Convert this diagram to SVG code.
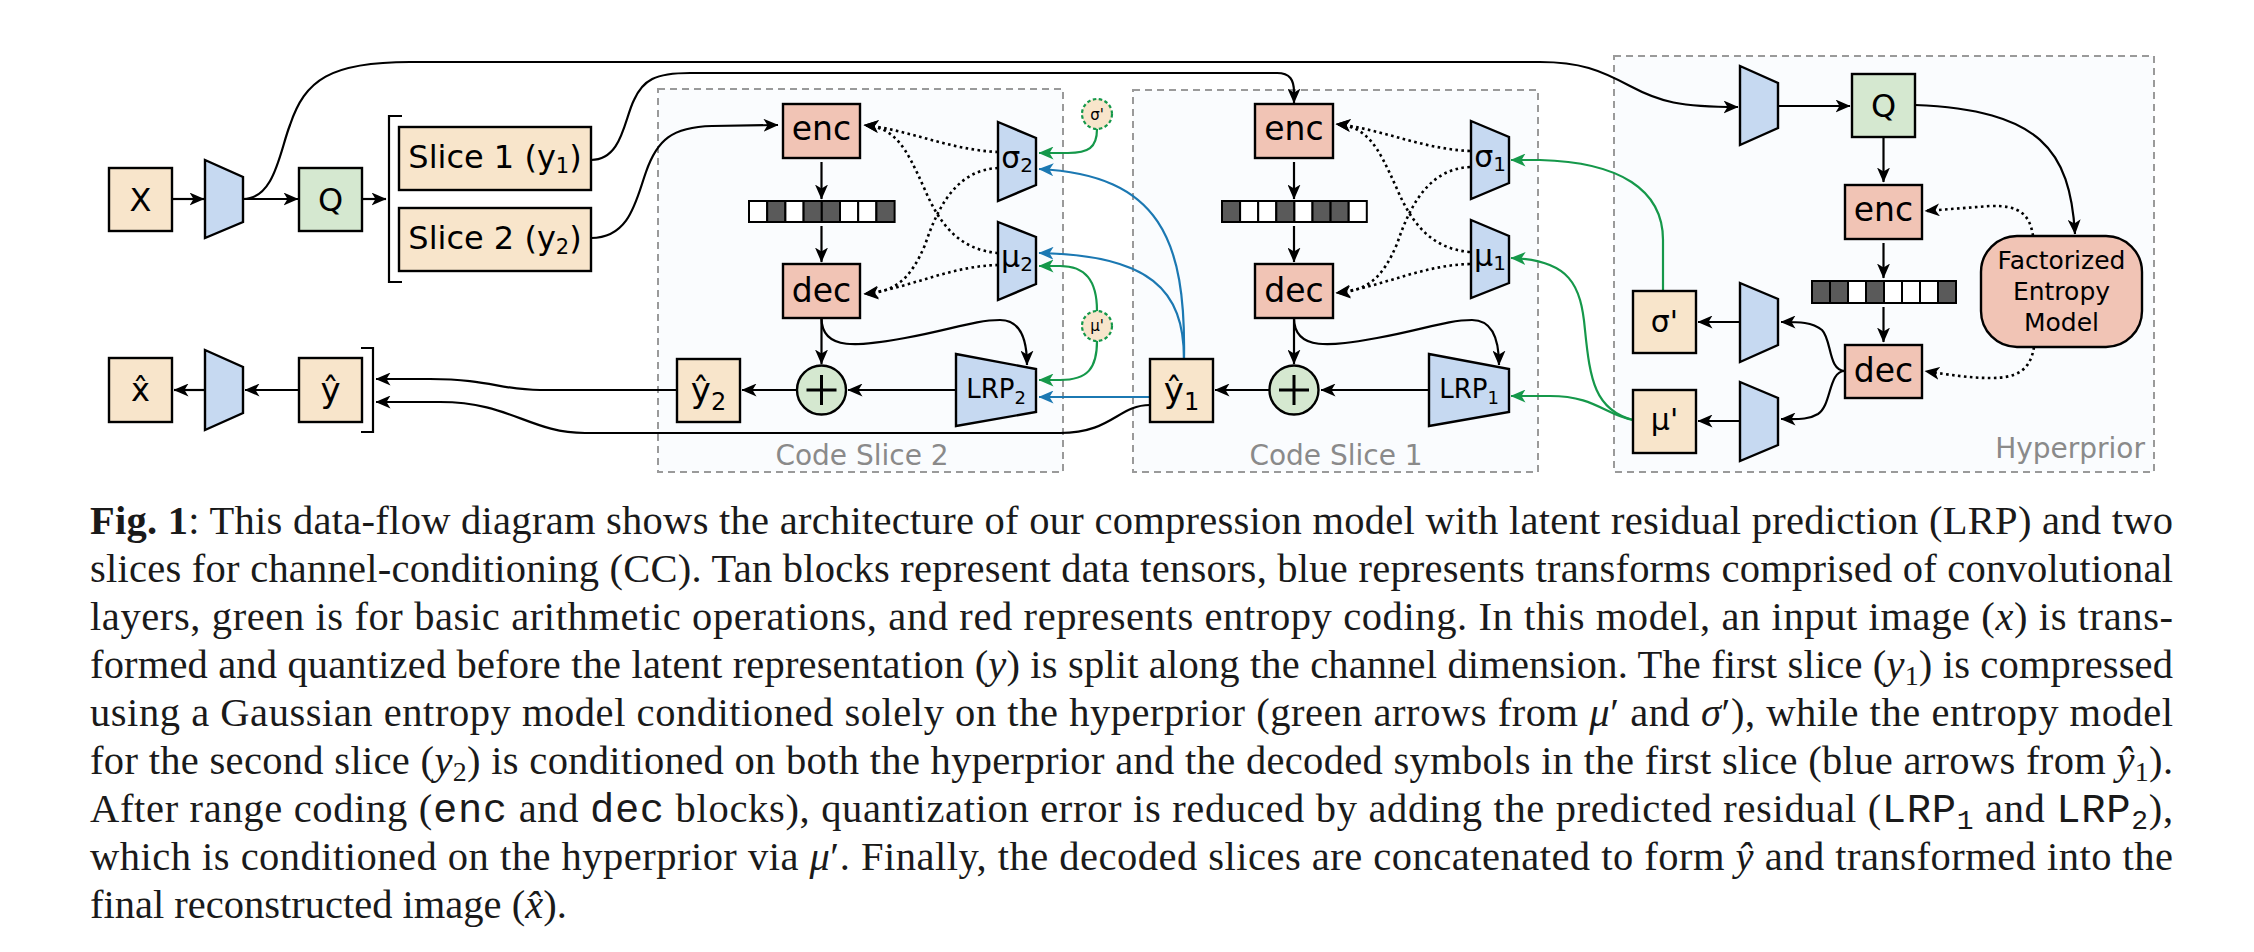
<svg xmlns="http://www.w3.org/2000/svg" width="2254" height="952" viewBox="0 0 2254 952">
<style>
.bg{fill:#ffffff}
.region{fill:#fafcfe;stroke:#9a9a9a;stroke-width:2;stroke-dasharray:7 5}
.rlabel{font-family:"DejaVu Sans",sans-serif;font-size:28px;fill:#8a8a8a}
.tan{fill:#f8e5cb;stroke:#000;stroke-width:2.4}
.grn{fill:#d5e8d0;stroke:#000;stroke-width:2.4}
.red{fill:#f1c4b5;stroke:#000;stroke-width:2.4}
.blu{fill:#c6d9f1;stroke:#000;stroke-width:2.4}
.lbl{font-family:"DejaVu Sans",sans-serif;fill:#000;text-anchor:middle}
.c{fill:none;stroke:#000;stroke-width:2.2}
.dot{fill:none;stroke:#000;stroke-width:2.6;stroke-dasharray:2.6 3.4}
.g{fill:none;stroke:#15984a;stroke-width:2.2}
.b{fill:none;stroke:#1b78b2;stroke-width:2.2}
.cell{stroke:#000;stroke-width:2}
.dk{fill:#5a5a5a}
.wt{fill:#ffffff}
.small{fill:#f8e5cb;stroke:#15984a;stroke-width:2.2;stroke-dasharray:3.5 2.5}
.cap{font-family:"Liberation Serif","Times New Roman",serif;font-size:40.5px;fill:#1a1a1a}
.mono{font-family:"Liberation Mono","Courier New",monospace}
</style>
<defs>
<marker id="ah" viewBox="0 0 15 13" refX="14.5" refY="6.5" markerWidth="15" markerHeight="13" markerUnits="userSpaceOnUse" orient="auto"><path d="M0,0 L15,6.5 L0,13 L4,6.5 Z" fill="#000"/></marker>
<marker id="ahg" viewBox="0 0 15 13" refX="14.5" refY="6.5" markerWidth="15" markerHeight="13" markerUnits="userSpaceOnUse" orient="auto"><path d="M0,0 L15,6.5 L0,13 L4,6.5 Z" fill="#15984a"/></marker>
<marker id="ahb" viewBox="0 0 15 13" refX="14.5" refY="6.5" markerWidth="15" markerHeight="13" markerUnits="userSpaceOnUse" orient="auto"><path d="M0,0 L15,6.5 L0,13 L4,6.5 Z" fill="#1b78b2"/></marker>
</defs>
<rect class="bg" x="0" y="0" width="2254" height="952"/>

<g id="regions">
<g id="code-slice-2"><rect class="region" x="658" y="89" width="405" height="383"/><text class="rlabel" x="862" y="465" text-anchor="middle">Code Slice 2</text></g>
<g id="code-slice-1"><rect class="region" x="1133" y="90" width="405" height="382"/><text class="rlabel" x="1336" y="465" text-anchor="middle">Code Slice 1</text></g>
<g id="hyperprior"><rect class="region" x="1614" y="56" width="540" height="416"/><text class="rlabel" x="2145" y="458" text-anchor="end">Hyperprior</text></g>
</g>

<g id="connectors">
<path class="c" d="M172,199 L204,199" marker-end="url(#ah)"/>
<path class="c" d="M243,199 L298,199" marker-end="url(#ah)"/>
<path class="c" d="M362,199 L386,199" marker-end="url(#ah)"/>
<path class="c" d="M243,199 C275,199 280,150 290,125 C305,80 330,62 410,62 L1540,62 C1580,62 1600,70 1630,86 C1660,102 1680,107 1738,107" marker-end="url(#ah)"/>
<path class="c" d="M591,160 C622,160 624,120 634,100 C643,80 655,73 690,73 L1277,73 C1290,73 1294,80 1294,92 L1294,103" marker-end="url(#ah)"/>
<path class="c" d="M591,238 C630,238 636,200 646,172 C657,140 672,127 712,126 L778,125" marker-end="url(#ah)"/>
<path class="c" d="M821.5,162 L821.5,199" marker-end="url(#ah)"/>
<path class="c" d="M821.5,226 L821.5,262" marker-end="url(#ah)"/>
<path class="c" d="M821.5,318 L821.5,364" marker-end="url(#ah)"/>
<path class="c" d="M821.5,318 C821.5,352 860,346 905,338 C950,330 975,320 1000,320 C1018,320 1027,335 1027,365" marker-end="url(#ah)"/>
<path class="c" d="M956,390 L848,390" marker-end="url(#ah)"/>
<path class="c" d="M797,390 L742,390" marker-end="url(#ah)"/>
<path class="dot" d="M998,152 C950,150 910,130 864,125" marker-end="url(#ah)"/>
<path class="dot" d="M998,253 C960,250 940,225 925,190 C905,145 895,128 864,125" marker-end="url(#ah)"/>
<path class="dot" d="M998,168 C960,170 940,200 925,245 C910,280 895,292 864,294" marker-end="url(#ah)"/>
<path class="dot" d="M998,265 C950,266 910,288 864,294" marker-end="url(#ah)"/>
<path class="g" d="M1097,129 C1097,148 1088,153 1068,153 L1039,153" marker-end="url(#ahg)"/>
<path class="g" d="M1097,311 C1097,280 1085,266 1060,266 L1039,266" marker-end="url(#ahg)"/>
<path class="g" d="M1097,341 C1097,368 1088,380 1060,380 L1039,380" marker-end="url(#ahg)"/>
<path class="b" d="M1184,359 C1186,240 1160,175 1039,169" marker-end="url(#ahb)"/>
<path class="b" d="M1184,359 C1184,290 1150,255 1039,253" marker-end="url(#ahb)"/>
<path class="b" d="M1150,397 L1039,397" marker-end="url(#ahb)"/>
<path class="c" d="M1294,162 L1294,199" marker-end="url(#ah)"/>
<path class="c" d="M1294,226 L1294,262" marker-end="url(#ah)"/>
<path class="c" d="M1294,318 L1294,364" marker-end="url(#ah)"/>
<path class="c" d="M1294,318 C1294,352 1332,346 1377,338 C1422,330 1447,320 1472,320 C1490,320 1499,335 1499,365" marker-end="url(#ah)"/>
<path class="c" d="M1429,390 L1321,390" marker-end="url(#ah)"/>
<path class="c" d="M1269,390 L1215,390" marker-end="url(#ah)"/>
<path class="dot" d="M1470,151 C1422,149 1382,129 1336,124" marker-end="url(#ah)"/>
<path class="dot" d="M1470,252 C1432,249 1412,224 1397,189 C1377,144 1367,127 1336,124" marker-end="url(#ah)"/>
<path class="dot" d="M1470,167 C1432,169 1412,199 1397,244 C1382,279 1367,291 1336,293" marker-end="url(#ah)"/>
<path class="dot" d="M1470,264 C1422,265 1382,287 1336,293" marker-end="url(#ah)"/>
<path class="g" d="M1663,291 L1663,240 C1663,190 1620,162 1540,160 L1511,160" marker-end="url(#ahg)"/>
<path class="g" d="M1633,420 C1595,410 1590,380 1585,330 C1581,285 1570,260 1511,258" marker-end="url(#ahg)"/>
<path class="g" d="M1633,420 C1605,415 1595,396 1550,396 L1511,396" marker-end="url(#ahg)"/>
<path class="c" d="M677,390 L540,390 C500,390 490,379 430,379 L376,379" marker-end="url(#ah)"/>
<path class="c" d="M1150,405 C1118,405 1112,433 1060,433 L585,433 C530,433 510,402 440,402 L376,402" marker-end="url(#ah)"/>
<path class="c" d="M299,390 L245,390" marker-end="url(#ah)"/>
<path class="c" d="M205,390 L174,390" marker-end="url(#ah)"/>
<path class="c" d="M1778,106 L1850,106" marker-end="url(#ah)"/>
<path class="c" d="M1883.5,137 L1883.5,182" marker-end="url(#ah)"/>
<path class="c" d="M1883.5,243 L1883.5,278" marker-end="url(#ah)"/>
<path class="c" d="M1883.5,307 L1883.5,342" marker-end="url(#ah)"/>
<path class="c" d="M1915,105 C2040,110 2070,150 2075,234" marker-end="url(#ah)"/>
<path class="dot" d="M2033,236 C2030,215 2020,205 1990,206 L1925,211" marker-end="url(#ah)"/>
<path class="dot" d="M2034,347 C2030,372 2015,378 1990,378 C1970,378 1950,375 1925,371" marker-end="url(#ah)"/>
<path class="c" d="M1845,371 C1828,371 1832,340 1822,330 C1812,322 1800,322 1781,322" marker-end="url(#ah)"/>
<path class="c" d="M1845,371 C1828,371 1832,405 1818,414 C1808,420 1798,419 1781,419" marker-end="url(#ah)"/>
<path class="c" d="M1740,322 L1698,322" marker-end="url(#ah)"/>
<path class="c" d="M1740,421 L1698,421" marker-end="url(#ah)"/>
</g>

<g id="brackets">
<path class="c" d="M402,116 L389,116 L389,282 L402,282" stroke-width="2.6"/>
<path class="c" d="M361,348 L373,348 L373,432 L361,432" stroke-width="2.6"/>
</g>

<g id="node-x"><rect class="tan" x="109" y="168" width="63" height="63"/><text class="lbl" x="140.5" y="211" font-size="32">X</text></g>
<g id="node-enc-transform"><polygon class="blu" points="205,160 243,177 243,222 205,238"/></g>
<g id="node-q"><rect class="grn" x="299" y="168" width="63" height="63"/><text class="lbl" x="330.5" y="211" font-size="32">Q</text></g>
<g id="node-slice1"><rect class="tan" x="399" y="127" width="192" height="63"/><text class="lbl" x="495" y="168" font-size="32">Slice 1 (y<tspan font-size="21" dy="5">1</tspan><tspan dy="-5">)</tspan></text></g>
<g id="node-slice2"><rect class="tan" x="399" y="208" width="192" height="63"/><text class="lbl" x="495" y="249" font-size="32">Slice 2 (y<tspan font-size="21" dy="5">2</tspan><tspan dy="-5">)</tspan></text></g>

<g id="node-xhat"><rect class="tan" x="109" y="358" width="63" height="64"/><text class="lbl" x="140.5" y="401" font-size="32">x̂</text></g>
<g id="node-dec-transform"><polygon class="blu" points="205,350 243,367 243,413 205,430"/></g>
<g id="node-yhat"><rect class="tan" x="299" y="358" width="63" height="64"/><text class="lbl" x="330.5" y="402" font-size="34">ŷ</text></g>

<g id="node-enc2"><rect class="red" x="783" y="104" width="77" height="54"/><text class="lbl" x="821.5" y="140" font-size="33">enc</text></g>
<g id="node-bar2">
<rect class="cell wt" x="749" y="201" width="18.2" height="21"/><rect class="cell dk" x="767.2" y="201" width="18.2" height="21"/><rect class="cell wt" x="785.4" y="201" width="18.2" height="21"/><rect class="cell dk" x="803.6" y="201" width="18.2" height="21"/><rect class="cell dk" x="821.8" y="201" width="18.2" height="21"/><rect class="cell wt" x="840" y="201" width="18.2" height="21"/><rect class="cell wt" x="858.2" y="201" width="18.2" height="21"/><rect class="cell dk" x="876.4" y="201" width="18.2" height="21"/>
</g>
<g id="node-dec2"><rect class="red" x="783" y="264" width="77" height="54"/><text class="lbl" x="821.5" y="302" font-size="33">dec</text></g>
<g id="node-plus2"><circle cx="821.5" cy="390" r="24.5" fill="#d5e8d0" stroke="#000" stroke-width="2.4"/><path d="M821.5,375 V405 M806.5,390 H836.5" stroke="#000" stroke-width="3" fill="none"/></g>
<g id="node-lrp2"><polygon class="blu" points="956,354 1036,369 1036,412 956,426"/><text class="lbl" x="996" y="398" font-size="26">LRP<tspan font-size="18" dy="6">2</tspan></text></g>
<g id="node-sigma2"><polygon class="blu" points="998,122 1036,138 1036,185 998,201"/><text class="lbl" x="1017" y="168" font-size="30">σ<tspan font-size="20" dy="4">2</tspan></text></g>
<g id="node-mu2"><polygon class="blu" points="998,222 1036,237 1036,284 998,300"/><text class="lbl" x="1017" y="267" font-size="30">μ<tspan font-size="20" dy="4">2</tspan></text></g>
<g id="node-yhat2"><rect class="tan" x="677" y="359" width="63" height="63"/><text class="lbl" x="708.5" y="402" font-size="34">ŷ<tspan font-size="24" dy="8">2</tspan></text></g>
<g id="node-sigma-small"><circle class="small" cx="1097" cy="114" r="15"/><text class="lbl" x="1097" y="119.5" font-size="15" fill="#555">σ'</text></g>
<g id="node-mu-small"><circle class="small" cx="1097" cy="326" r="15"/><text class="lbl" x="1097" y="331" font-size="15" fill="#555">μ'</text></g>

<g id="node-enc1"><rect class="red" x="1255" y="104" width="78" height="54"/><text class="lbl" x="1294" y="140" font-size="33">enc</text></g>
<g id="node-bar1">
<rect class="cell dk" x="1222" y="201" width="18.1" height="21"/><rect class="cell wt" x="1240.1" y="201" width="18.1" height="21"/><rect class="cell wt" x="1258.2" y="201" width="18.1" height="21"/><rect class="cell dk" x="1276.3" y="201" width="18.1" height="21"/><rect class="cell wt" x="1294.4" y="201" width="18.1" height="21"/><rect class="cell dk" x="1312.5" y="201" width="18.1" height="21"/><rect class="cell dk" x="1330.6" y="201" width="18.1" height="21"/><rect class="cell wt" x="1348.7" y="201" width="18.1" height="21"/>
</g>
<g id="node-dec1"><rect class="red" x="1255" y="264" width="78" height="54"/><text class="lbl" x="1294" y="302" font-size="33">dec</text></g>
<g id="node-plus1"><circle cx="1294" cy="390" r="24.5" fill="#d5e8d0" stroke="#000" stroke-width="2.4"/><path d="M1294,375 V405 M1279,390 H1309" stroke="#000" stroke-width="3" fill="none"/></g>
<g id="node-lrp1"><polygon class="blu" points="1429,354 1509,369 1509,412 1429,426"/><text class="lbl" x="1469" y="398" font-size="26">LRP<tspan font-size="18" dy="6">1</tspan></text></g>
<g id="node-sigma1"><polygon class="blu" points="1471,121 1509,137 1509,183 1471,199"/><text class="lbl" x="1490" y="167" font-size="30">σ<tspan font-size="20" dy="4">1</tspan></text></g>
<g id="node-mu1"><polygon class="blu" points="1471,220 1509,236 1509,283 1471,298"/><text class="lbl" x="1490" y="266" font-size="30">μ<tspan font-size="20" dy="4">1</tspan></text></g>
<g id="node-yhat1"><rect class="tan" x="1150" y="359" width="63" height="63"/><text class="lbl" x="1181.5" y="402" font-size="34">ŷ<tspan font-size="24" dy="8">1</tspan></text></g>

<g id="node-hyper-enc"><polygon class="blu" points="1740,66 1778,83 1778,128 1740,145"/></g>
<g id="node-hyper-q"><rect class="grn" x="1852" y="74" width="63" height="63"/><text class="lbl" x="1883.5" y="117" font-size="32">Q</text></g>
<g id="node-hyper-encoder"><rect class="red" x="1845" y="185" width="77" height="54"/><text class="lbl" x="1883.5" y="221" font-size="33">enc</text></g>
<g id="node-hyper-bar">
<rect class="cell dk" x="1812" y="281" width="18" height="22"/><rect class="cell dk" x="1830" y="281" width="18" height="22"/><rect class="cell wt" x="1848" y="281" width="18" height="22"/><rect class="cell dk" x="1866" y="281" width="18" height="22"/><rect class="cell wt" x="1884" y="281" width="18" height="22"/><rect class="cell wt" x="1902" y="281" width="18" height="22"/><rect class="cell wt" x="1920" y="281" width="18" height="22"/><rect class="cell dk" x="1938" y="281" width="18" height="22"/>
</g>
<g id="node-hyper-decoder"><rect class="red" x="1845" y="345" width="77" height="53"/><text class="lbl" x="1883.5" y="382" font-size="33">dec</text></g>
<g id="node-fem"><rect class="red" x="1981" y="236" width="161" height="111" rx="36" ry="36"/><text class="lbl" font-size="25"><tspan x="2061.5" y="269">Factorized</tspan><tspan x="2061.5" y="300">Entropy</tspan><tspan x="2061.5" y="331">Model</tspan></text></g>
<g id="node-hyper-dec-sigma"><polygon class="blu" points="1740,283 1778,299 1778,345 1740,362"/></g>
<g id="node-hyper-dec-mu"><polygon class="blu" points="1740,382 1778,398 1778,445 1740,461"/></g>
<g id="node-sigma-prime"><rect class="tan" x="1633" y="291" width="63" height="62"/><text class="lbl" x="1664.5" y="332" font-size="30">σ'</text></g>
<g id="node-mu-prime"><rect class="tan" x="1633" y="390" width="63" height="63"/><text class="lbl" x="1664.5" y="430" font-size="30">μ'</text></g>

<g id="caption" class="cap">
<text x="90" y="533.5" textLength="2083" lengthAdjust="spacing"><tspan font-weight="bold">Fig. 1</tspan>: This data-flow diagram shows the architecture of our compression model with latent residual prediction (LRP) and two</text>
<text x="90" y="581.5" textLength="2083" lengthAdjust="spacing">slices for channel-conditioning (CC). Tan blocks represent data tensors, blue represents transforms comprised of convolutional</text>
<text x="90" y="629.5" textLength="2083" lengthAdjust="spacing">layers, green is for basic arithmetic operations, and red represents entropy coding. In this model, an input image (<tspan font-style="italic">x</tspan>) is trans-</text>
<text x="90" y="677.5" textLength="2083" lengthAdjust="spacing">formed and quantized before the latent representation (<tspan font-style="italic">y</tspan>) is split along the channel dimension. The first slice (<tspan font-style="italic">y</tspan><tspan font-size="28" dy="7">1</tspan><tspan dy="-7">) is compressed</tspan></text>
<text x="90" y="725.5" textLength="2083" lengthAdjust="spacing">using a Gaussian entropy model conditioned solely on the hyperprior (green arrows from <tspan font-style="italic">μ</tspan>′ and <tspan font-style="italic">σ</tspan>′), while the entropy model</text>
<text x="90" y="773.5" textLength="2083" lengthAdjust="spacing">for the second slice (<tspan font-style="italic">y</tspan><tspan font-size="28" dy="7">2</tspan><tspan dy="-7">) is conditioned on both the hyperprior and the decoded symbols in the first slice (blue arrows from </tspan><tspan font-style="italic">ŷ</tspan><tspan font-size="28" dy="7">1</tspan><tspan dy="-7">).</tspan></text>
<text x="90" y="821.5" textLength="2083" lengthAdjust="spacing">After range coding (<tspan class="mono">enc</tspan> and <tspan class="mono">dec</tspan> blocks), quantization error is reduced by adding the predicted residual (<tspan class="mono">LRP</tspan><tspan class="mono" font-size="28" dy="7">1</tspan><tspan dy="-7"> and </tspan><tspan class="mono">LRP</tspan><tspan class="mono" font-size="28" dy="7">2</tspan><tspan dy="-7">),</tspan></text>
<text x="90" y="869.5" textLength="2083" lengthAdjust="spacing">which is conditioned on the hyperprior via <tspan font-style="italic">μ</tspan>′. Finally, the decoded slices are concatenated to form <tspan font-style="italic">ŷ</tspan> and transformed into the</text>
<text x="90" y="917.5">final reconstructed image (<tspan font-style="italic">x̂</tspan>).</text>
</g>
</svg>
